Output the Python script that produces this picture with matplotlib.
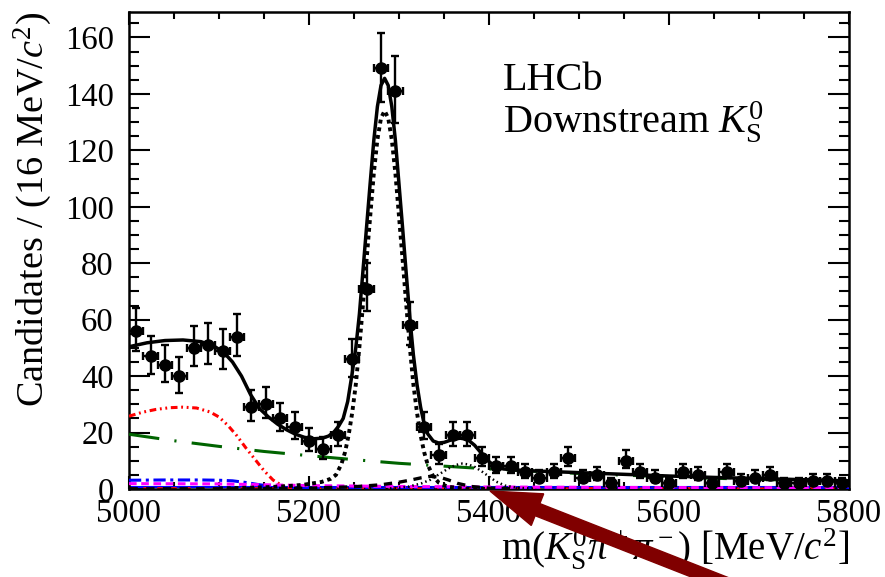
import numpy as np
import matplotlib
matplotlib.use("Agg")
import matplotlib.pyplot as plt
from matplotlib.patches import FancyArrow
from matplotlib.transforms import IdentityTransform
from matplotlib.ticker import MultipleLocator

plt.rcParams['font.family'] = ['Liberation Serif', 'DejaVu Serif']
plt.rcParams['mathtext.fontset'] = 'custom'
plt.rcParams['mathtext.rm'] = 'Liberation Serif'
plt.rcParams['mathtext.it'] = 'Liberation Serif:italic'
plt.rcParams['mathtext.bf'] = 'Liberation Serif:bold'

# ---------------- data ----------------
bin_centers = np.arange(5008, 5800, 16)
counts = [56, 47, 44, 40, 50, 51, 49, 54, 29, 30, 25, 22, 17, 14, 19, 46, 71, 149, 141, 58,
          22, 12, 19, 19, 11, 8, 8, 6, 4, 6, 11, 4, 5, 2, 10, 6, 4, 2, 6, 5,
          2, 6, 3, 4, 5, 2, 2, 3, 3, 2]
bin_half_width = 8

# total fit (solid black)
tot_x = [5000, 5020, 5040, 5060, 5080, 5095, 5105, 5115, 5125, 5135, 5145, 5155, 5165, 5175,
         5185, 5195, 5205, 5215, 5222, 5228, 5233, 5238, 5243, 5248, 5252, 5256, 5260, 5264,
         5268, 5272, 5276, 5280, 5284, 5288, 5292, 5296, 5300, 5304, 5308, 5312, 5316, 5320,
         5324, 5328, 5332, 5338, 5344, 5350, 5360, 5368, 5376, 5384, 5392, 5400, 5408, 5416,
         5426, 5440, 5450, 5500, 5550, 5600, 5650, 5700, 5750, 5800]
tot_y = [50.4, 51.8, 52.6, 52.8, 52.2, 50.5, 48.5, 45, 40, 33.5, 28.5, 25.5, 23, 21,
         19.4, 18.3, 17.8, 18, 18.8, 20.3, 22.3, 25, 31, 41, 50, 62, 77.5, 93,
         108.5, 123.5, 135.5, 143, 145.5, 143, 135.5, 123.5, 108, 92.5, 76.5, 61, 47.5, 37,
         29, 23, 19.5, 17, 16.3, 16.5, 17.6, 18, 17.6, 15.5, 12.5, 9.7, 7.8, 7.1,
         6.8, 6.5, 6.4, 5.8, 5.2, 4.6, 4.1, 3.7, 3.3, 2.9]

# B0 signal (dotted black)
sig_x = [5100, 5150, 5175, 5194, 5214, 5224, 5230, 5236, 5240, 5244, 5248, 5252, 5256, 5260,
         5264, 5268, 5272, 5276, 5280, 5284, 5288, 5292, 5296, 5300, 5304, 5308, 5312, 5316,
         5320, 5324, 5328, 5332, 5338, 5344, 5354, 5374, 5400]
sig_y = [0.2, 0.6, 1.0, 1.5, 2.5, 3.6, 5.0, 8.8, 13, 19, 27, 37, 50.3, 65.5,
         81.3, 96.6, 111.8, 123.8, 131.4, 134, 131.4, 123.8, 111.8, 96.6, 81.3, 65.5, 50.3, 37,
         27, 19, 13, 8.5, 4.5, 2.3, 0.8, 0.1, 0.02]

# Bs signal (fine dotted black)
bs_x = [5290, 5310, 5325, 5335, 5345, 5355, 5363, 5370, 5377, 5385, 5393, 5400, 5408, 5418, 5430, 5450]
bs_y = [0.2, 0.8, 2.0, 3.3, 5.3, 7.3, 8.5, 9.0, 8.7, 7.7, 6.0, 4.4, 2.6, 1.2, 0.5, 0.1]

# cross-feed (dashed black)
xf_x = [5150, 5200, 5250, 5280, 5300, 5315, 5325, 5335, 5345, 5355, 5365, 5380, 5400, 5430]
xf_y = [0.1, 0.3, 0.8, 1.5, 2.4, 3.3, 4.0, 4.5, 4.2, 3.2, 2.0, 0.9, 0.3, 0.1]

# combinatorial (green long dash-dot)
comb_x = [5000, 5050, 5100, 5150, 5200, 5250, 5300, 5350, 5400, 5450, 5500, 5550, 5600, 5650, 5700, 5750, 5800]
comb_y = [19.4, 17.1, 15.1, 13.3, 11.8, 10.4, 9.1, 8.1, 7.1, 6.3, 5.5, 4.9, 4.3, 3.8, 3.4, 3.0, 2.6]

# partially reconstructed (red dash-dot-dot)
prc_x = [5000, 5015, 5030, 5045, 5060, 5075, 5090, 5100, 5110, 5120, 5130, 5140, 5150, 5160, 5170, 5180, 5200, 5800]
prc_y = [25.8, 27.2, 28.2, 28.8, 29.0, 28.7, 27.3, 25.5, 22.5, 18.8, 14.5, 10.5, 6.5, 3.2, 1.2, 0.4, 0.05, 0.0]

# other low-mass component (blue dash-dot)
blue_x = [5000, 5040, 5080, 5100, 5115, 5130, 5145, 5160, 5180, 5200, 5250, 5800]
blue_y = [3.1, 3.2, 3.2, 3.1, 2.9, 2.3, 1.5, 0.9, 0.4, 0.2, 0.05, 0.0]

# magenta dashed component
mag_x = [5000, 5100, 5150, 5200, 5300, 5400, 5500, 5600, 5800]
mag_y = [1.9, 1.8, 1.5, 1.2, 0.9, 0.7, 0.6, 0.5, 0.4]

# near-zero components
flat_x = [5000, 5800]
flat_blue = [0.7, 0.7]
flat_red = [0.5, 0.5]
flat_black = [0.25, 0.25]

# ---------------- figure ----------------
W, H = 885, 577
fig = plt.figure(figsize=(W / 100, H / 100), dpi=100)
ax = fig.add_axes([129 / W, 88 / H, 720 / W, 477 / H])

lw = 2.2
ax.plot(flat_x, flat_blue, color='blue', lw=1.5, zorder=2)
ax.plot(flat_x, flat_red, color='red', lw=2, dashes=(2, 3), zorder=2)
ax.plot(flat_x, flat_black, color='black', lw=2, dashes=(3, 3), zorder=2)
ax.plot(comb_x, comb_y, color='#006400', lw=lw, dashes=(10, 5, 0.7, 5), zorder=3)
ax.plot(prc_x, prc_y, color='red', lw=lw, dashes=(2.2, 1.2, 0.6, 1.2, 0.6, 1.2), zorder=3)
ax.plot(blue_x, blue_y, color='blue', lw=lw, dashes=(4, 1.5, 1, 1.5), zorder=3)
ax.plot(mag_x, mag_y, color='magenta', lw=lw, dashes=(2.5, 1.5), zorder=3)
ax.plot(xf_x, xf_y, color='black', lw=2.4, dashes=(2.5, 2), zorder=4)
ax.plot(bs_x, bs_y, color='black', lw=1.8, dashes=(0.6, 1.2), zorder=4)
ax.plot(sig_x, sig_y, color='black', lw=2.8, dashes=(1, 1), zorder=4)
ax.plot(tot_x, tot_y, color='black', lw=2.5, zorder=5)

n = np.array(counts, dtype=float)
err_lo = np.sqrt(n + 0.25) - 0.5
err_hi = np.sqrt(n + 0.25) + 0.5
ax.errorbar(bin_centers, n, yerr=[err_lo, err_hi], xerr=bin_half_width, fmt='o',
            color='black', ms=8, elinewidth=1.7, capsize=2.8, capthick=1.7, zorder=6)

ax.set_xlim(5000, 5800)
ax.set_ylim(0, 169)
ax.xaxis.set_major_locator(MultipleLocator(200))
ax.xaxis.set_minor_locator(MultipleLocator(50))
ax.yaxis.set_major_locator(MultipleLocator(20))
ax.yaxis.set_minor_locator(MultipleLocator(5))
ax.tick_params(axis='both', which='both', direction='in', top=True, right=True, width=1.5,
               labelsize=23.5)
ax.tick_params(axis='x', which='major', length=9.5, pad=7)
ax.tick_params(axis='x', which='minor', length=5)
ax.tick_params(axis='y', which='major', length=15, pad=11)
ax.tick_params(axis='y', which='minor', length=7.5)
for s in ax.spines.values():
    s.set_linewidth(1.8)

fig.text(33 / W, 1 - 12 / H, r'Candidates / (16 MeV/$c^2$)', rotation=90,
         ha='center', va='top', fontsize=27.5)
fig.text(849 / W, 17 / H, r'm($K^0_{\rm S}\pi^+\pi^-$) [MeV/$c^2$]', ha='right',
         va='baseline', fontsize=28)

fig.text(503 / W, 1 - 90 / H, 'LHCb', ha='left', va='baseline', fontsize=29)
fig.text(503 / W, 1 - 133 / H, r'Downstream $K^0_{\rm S}$', ha='left', va='baseline', fontsize=29)

arrow = FancyArrow(765, -22, -275, 108, width=13, head_width=34, head_length=51,
                   length_includes_head=True, color='#800000', transform=IdentityTransform(),
                   zorder=10, clip_on=False)
fig.add_artist(arrow)

fig.savefig('out.png', dpi=100)
